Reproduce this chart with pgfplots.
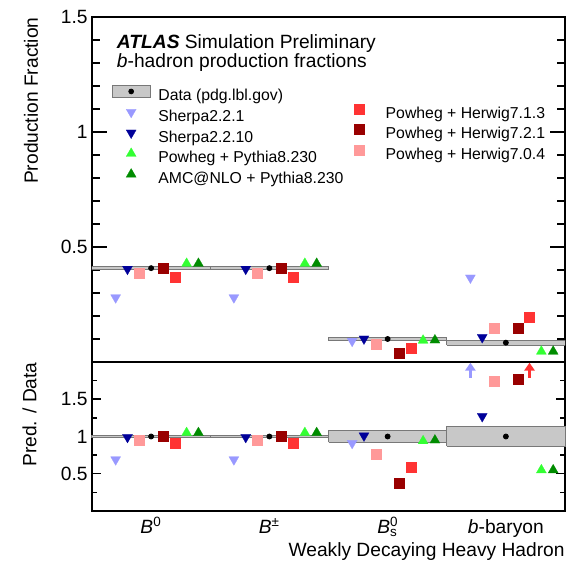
\documentclass[border=0pt]{standalone}
\usepackage{fontspec}
\setmainfont{Liberation Sans}
\usepackage{pgfplots}
\pgfplotsset{compat=1.18}
\usetikzlibrary{arrows.meta}
\definecolor{shA}{RGB}{153,153,255}
\definecolor{shB}{RGB}{0,0,153}
\definecolor{pyA}{RGB}{51,255,51}
\definecolor{amc}{RGB}{0,140,0}
\definecolor{hwA}{RGB}{255,51,51}
\definecolor{hwB}{RGB}{153,0,0}
\definecolor{hwC}{RGB}{255,153,153}
\definecolor{bandfill}{RGB}{200,200,200}
\definecolor{bandline}{RGB}{120,120,120}
\pgfplotsset{
  trU/.style={only marks, mark=triangle*, mark size=2.9pt, color=#1, mark options={solid, fill=#1, draw=#1, line width=0.1pt}},
  trD/.style={only marks, mark=triangle*, mark size=2.9pt, color=#1, mark options={solid, fill=#1, draw=#1, line width=0.1pt, rotate=180}},
  sq/.style={only marks, mark=square*, mark size=2.5pt, color=#1, mark options={solid, fill=#1, draw=#1, line width=0.1pt}},
  band/.style={fill=bandfill, draw=bandline, line width=0.5pt, forget plot},
  dat/.style={only marks, mark=*, mark size=1.25pt, color=black, forget plot},
  common/.style={
    scale only axis, width=236.5pt, xmin=0, xmax=4,
    axis line style={line width=0.75pt}, tick style={line width=0.75pt, black},
    xtick=\empty, minor xtick={1,2,3},
    /pgf/number format/assume math mode=true,
    tick label style={font=\fontsize{9.6}{11}\selectfont},
    label style={font=\fontsize{9.6}{11}\selectfont},
    yticklabel style={inner xsep=0pt, xshift=-2pt},
    legend cell align=left,
    legend image code/.code={\path[draw=none,fill=none] (0pt,-0.2pt) rectangle (19pt,5.8pt); \draw[mark repeat=2,mark phase=2,##1] plot coordinates {(0pt,2.8pt)(9.5pt,2.8pt)(19pt,2.8pt)};},
  },
  legsty/.style={legend style={draw=none, fill=none, inner sep=0pt, outer sep=0pt, row sep=0pt, column sep=0pt,
    font=\fontsize{7.9}{9.5}\selectfont,
    nodes={inner ysep=0pt, inner xsep=3.85pt, text height=6.4pt, text depth=2.7pt}}},
}
\begin{document}
\begin{tikzpicture}
\useasboundingbox (-46pt,-27pt) rectangle (237.5pt,255.5pt);
% ---------------- top panel
\begin{axis}[common, at={(0pt,74.5pt)}, anchor=south west, height=172.5pt,
  ymin=0, ymax=1.5, ytick={0.5,1,1.5}, minor ytick={0.1,0.2,0.3,0.4,0.6,0.7,0.8,0.9,1.1,1.2,1.3,1.4},
  major tick length=7.5pt, minor tick length=4pt,
  ylabel={Production Fraction},
  ylabel style={at={(axis description cs:-0.129,1)}, anchor=east, inner sep=0pt},
  legsty, legend style={at={(0.0416,0.803)}, anchor=north west}]
\addlegendimage{legend image code/.code={\draw[fill=bandfill,draw=bandline,line width=0.5pt] (0pt,-0.2pt) rectangle (19pt,5.8pt); \fill[black] (9.5pt,2.8pt) circle (1.2pt);}}
\addlegendentry{Data (pdg.lbl.gov)}
\addplot[band] coordinates {(0,0.401) (1,0.401) (1,0.415) (0,0.415) (0,0.401)};
\addplot[band] coordinates {(1,0.401) (2,0.401) (2,0.415) (1,0.415) (1,0.401)};
\addplot[band] coordinates {(2,0.092) (3,0.092) (3,0.108) (2,0.108) (2,0.092)};
\addplot[band] coordinates {(3,0.073) (4,0.073) (4,0.095) (3,0.095) (3,0.073)};
\addplot[dat] coordinates {(0.5,0.408) (1.5,0.408) (2.5,0.100) (3.5,0.084)};
\addplot[trD=shA] coordinates {(0.2,0.280) (1.2,0.280) (2.2,0.091) (3.2,0.366)};
\addlegendentry{Sherpa2.2.1}
\addplot[trD=shB] coordinates {(0.3,0.404) (1.3,0.404) (2.3,0.101) (3.3,0.107)};
\addlegendentry{Sherpa2.2.10}
\addplot[sq=hwC, forget plot] coordinates {(0.4,0.388) (1.4,0.388) (2.4,0.077) (3.4,0.147)};
\addplot[sq=hwB, forget plot] coordinates {(0.6,0.408) (1.6,0.408) (2.6,0.037) (3.6,0.149)};
\addplot[sq=hwA, forget plot] coordinates {(0.7,0.369) (1.7,0.369) (2.7,0.059) (3.7,0.196)};
\addplot[trU=pyA] coordinates {(0.8,0.428) (1.8,0.428) (2.8,0.094) (3.8,0.046)};
\addlegendentry{Powheg + Pythia8.230}
\addplot[trU=amc] coordinates {(0.9,0.428) (1.9,0.428) (2.9,0.095) (3.9,0.046)};
\addlegendentry{AMC@NLO + Pythia8.230}
\node[anchor=base west, inner sep=0pt, font=\fontsize{9.6}{11}\selectfont] at (axis description cs:0.052,0.908) {\textbf{\textit{ATLAS}} Simulation Preliminary};
\node[anchor=base west, inner sep=0pt, font=\fontsize{9.6}{11}\selectfont] at (axis description cs:0.052,0.853) {\textit{b}-hadron production fractions};
\end{axis}
% ---------------- second legend column
\begin{axis}[common, at={(0pt,74.5pt)}, anchor=south west, height=172.5pt,
  ymin=0, ymax=1.5, hide axis,
  legsty, legend style={at={(0.5243,0.751)}, anchor=north west}]
\addlegendimage{sq=hwA}
\addlegendentry{Powheg + Herwig7.1.3}
\addlegendimage{sq=hwB}
\addlegendentry{Powheg + Herwig7.2.1}
\addlegendimage{sq=hwC}
\addlegendentry{Powheg + Herwig7.0.4}
\end{axis}
% ---------------- ratio panel
\begin{axis}[common, at={(0pt,0pt)}, anchor=south west, height=74.5pt,
  ymin=0, ymax=2, ytick={0.5,1,1.5}, minor ytick={0.25,0.75,1.25,1.75},
  major tick length=4.5pt, minor tick length=2.5pt, clip=false,
  xminorgrids, minor x grid style={densely dotted, line width=0.5pt, black!60},
  extra x ticks={0.5,1.5,2.5,3.5},
  extra x tick labels={\textit{B}\textsuperscript{0}, \textit{B}\textsuperscript{±}, \textit{B}\rlap{\textsuperscript{0}}\textsubscript{s}, \textit{b}-baryon},
  extra x tick style={grid=none, major tick length=0pt, tick label style={anchor=base, yshift=-11.5pt}},
  ylabel={Pred. / Data},
  ylabel style={at={(axis description cs:-0.132,1)}, anchor=east, inner sep=0pt},
  xlabel={Weakly Decaying Heavy Hadron},
  xlabel style={at={(axis description cs:1,0)}, anchor=base east, inner sep=0pt, yshift=-23pt}]
\addplot[band] coordinates {(0,0.983) (1,0.983) (1,1.017) (0,1.017) (0,0.983)};
\addplot[band] coordinates {(1,0.983) (2,0.983) (2,1.017) (1,1.017) (1,0.983)};
\addplot[band] coordinates {(2,0.92) (3,0.92) (3,1.08) (2,1.08) (2,0.92)};
\addplot[band] coordinates {(3,0.869) (4,0.869) (4,1.131) (3,1.131) (3,0.869)};
\addplot[dat] coordinates {(0.5,1) (1.5,1) (2.5,1) (3.5,1)};
\addplot[trD=shA] coordinates {(0.2,0.69) (1.2,0.69) (2.2,0.91)};
\addplot[shA, line width=1.6pt, -{Triangle[width=5.2pt,length=4pt]}] coordinates {(3.2,1.79) (3.2,1.99)};
\addplot[trD=shB] coordinates {(0.3,0.99) (1.3,0.99) (2.3,1.01) (3.3,1.27)};
\addplot[sq=hwC] coordinates {(0.4,0.95) (1.4,0.95) (2.4,0.77) (3.4,1.75)};
\addplot[sq=hwB] coordinates {(0.6,1.0) (1.6,1.0) (2.6,0.37) (3.6,1.77)};
\addplot[sq=hwA] coordinates {(0.7,0.905) (1.7,0.905) (2.7,0.59)};
\addplot[hwA, line width=1.6pt, -{Triangle[width=5.2pt,length=4pt]}] coordinates {(3.7,1.79) (3.7,1.99)};
\addplot[trU=pyA] coordinates {(0.8,1.05) (1.8,1.05) (2.8,0.94) (3.8,0.55)};
\addplot[trU=amc] coordinates {(0.9,1.05) (1.9,1.05) (2.9,0.95) (3.9,0.55)};
\end{axis}
\end{tikzpicture}
\end{document}
